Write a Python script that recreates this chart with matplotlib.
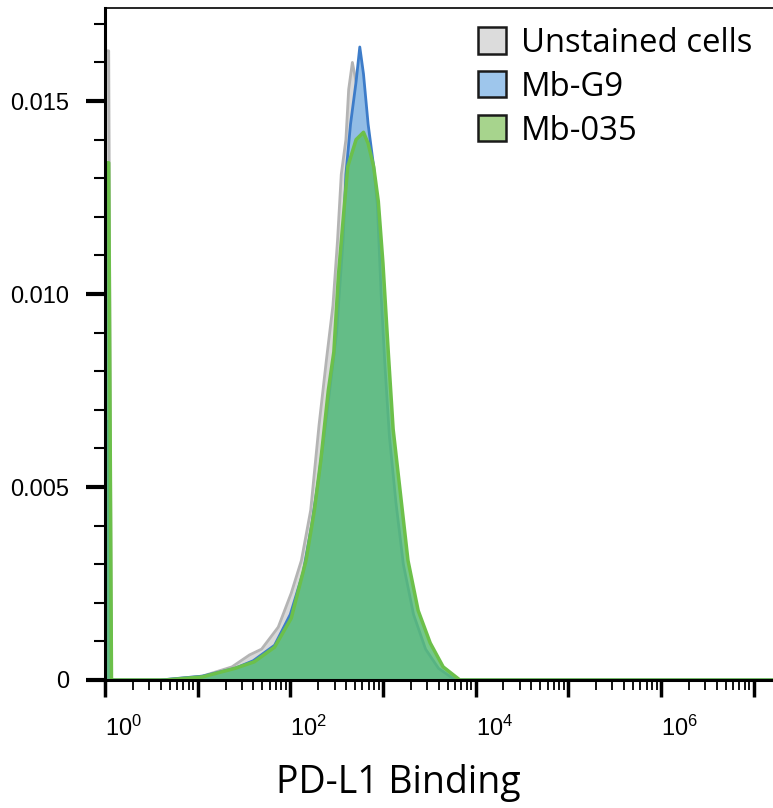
import matplotlib.pyplot as plt
import matplotlib.ticker as mticker
from matplotlib.patches import Patch
import numpy as np

# histogram outlines, x as log10(intensity), y as density
unstained_log = [0.0, 0.04, 0.07, 0.6, 1.05, 1.37, 1.56, 1.69, 1.87, 2.01, 2.12, 2.22, 2.31, 2.39,
                 2.46, 2.51, 2.55, 2.60, 2.63, 2.67, 2.75, 2.82, 2.88, 2.94, 3.00, 3.06,
                 3.14, 3.22, 3.32, 3.45, 3.60, 3.75, 7.3]
unstained_y = [0.0163, 0.0163, 0.0, 0.0, 0.0001, 0.00034, 0.00065, 0.0008, 0.00137, 0.00225, 0.0031,
               0.0044, 0.0066, 0.0083, 0.0097, 0.0114, 0.0131, 0.0140, 0.0153, 0.0160, 0.0150,
               0.0135, 0.0118, 0.0098, 0.0078, 0.0060, 0.0040, 0.0025, 0.0014, 0.0006,
               0.0002, 0.0, 0.0]

g9_log = [0.0, 0.04, 0.07, 0.6, 1.05, 1.40, 1.60, 1.83, 2.00, 2.14, 2.23, 2.31, 2.39, 2.45,
          2.50, 2.52, 2.57, 2.60, 2.65, 2.71, 2.75, 2.79, 2.84, 2.90, 2.94, 2.98, 3.02,
          3.07, 3.14, 3.22, 3.33, 3.46, 3.60, 3.78, 7.3]
g9_y = [0.0067, 0.0067, 0.0, 0.0, 0.0001, 0.0003, 0.0005, 0.0009, 0.0017, 0.0028, 0.0040,
        0.0053, 0.0068, 0.0080, 0.0090, 0.0097, 0.0114, 0.0131, 0.0144, 0.0155, 0.0164,
        0.0157, 0.0144, 0.0133, 0.0123, 0.0100, 0.0082, 0.0063, 0.0046, 0.0030, 0.0017,
        0.0008, 0.0003, 0.0, 0.0]

mb035_log = [0.0, 0.04, 0.07, 0.65, 1.05, 1.40, 1.61, 1.83, 2.01, 2.17, 2.26, 2.33, 2.41, 2.47,
             2.52, 2.58, 2.62, 2.71, 2.79, 2.84, 2.90, 2.95, 3.00, 3.06, 3.11, 3.19, 3.27,
             3.38, 3.51, 3.65, 3.83, 7.3]
mb035_y = [0.0134, 0.0134, 0.0, 0.0, 0.00008, 0.0003, 0.00047, 0.00085, 0.0016, 0.0031, 0.0044,
           0.0057, 0.0075, 0.0085, 0.0105, 0.0122, 0.0133, 0.0140, 0.01419, 0.0139, 0.0133,
           0.0124, 0.0108, 0.0084, 0.0065, 0.0048, 0.0031, 0.0018, 0.00096, 0.00034, 0.0,
           0.0]

labels = ["Unstained cells", "Mb-G9", "Mb-035"]
legend_colors = ["#dcdcdc", "#9ec6ec", "#a7d48d"]

y_ticks = [0, 0.005, 0.010, 0.015]
y_tick_labels = ["0", "0.005", "0.010", "0.015"]

fig = plt.figure(figsize=(7.73, 8.08), dpi=100)
ax = fig.add_axes([105 / 773, 128 / 808, 668 / 773, 672 / 808])

x_un = 10 ** np.array(unstained_log)
x_g9 = 10 ** np.array(g9_log)
x_35 = 10 ** np.array(mb035_log)

ax.fill_between(x_un, unstained_y, color="#d9d9d9", lw=0, zorder=1)
ax.plot(x_un, unstained_y, color="#b4b4b4", lw=2, zorder=1.5)
ax.fill_between(x_g9, g9_y, color="#92bde6", lw=0, zorder=2)
ax.plot(x_g9, g9_y, color="#3d7cc9", lw=2, zorder=2.5)
ax.fill_between(x_35, mb035_y, color="#5cbe77", alpha=0.85, lw=0, zorder=3)
ax.plot(x_35, mb035_y, color="#6cc04a", lw=2.5, zorder=3.5)

ax.set_xscale("log")
ax.set_xlim(1, 10 ** 7.21)
ax.set_ylim(0, 0.01741)

# spines
ax.spines["right"].set_visible(False)
ax.spines["left"].set_linewidth(2.2)
ax.spines["bottom"].set_linewidth(2.2)
ax.spines["top"].set_linewidth(1.2)
for s in ax.spines.values():
    s.set_zorder(5)

# x ticks
ax.xaxis.set_major_locator(mticker.FixedLocator([10.0 ** k for k in range(8)]))
ax.xaxis.set_minor_locator(mticker.LogLocator(base=10, subs=np.arange(2, 10), numticks=20))
xlab = []
for k in range(8):
    xlab.append(r"$\mathregular{10^{%d}}$" % k if k % 2 == 0 else "")
ax.set_xticklabels(xlab)
ax.tick_params(axis="x", which="major", length=12, width=2.5, pad=14)
ax.tick_params(axis="x", which="minor", length=7, width=1.3)
for t in ax.get_xticklabels():
    t.set_ha("left")
    t.set_fontfamily("Liberation Sans")
    t.set_fontsize(17)

# y ticks
ax.set_yticks(y_ticks)
ax.set_yticklabels(y_tick_labels, fontfamily="Liberation Sans", fontsize=17)
ax.yaxis.set_minor_locator(mticker.MultipleLocator(0.001))
ax.tick_params(axis="y", which="major", length=14, width=3, pad=12)
ax.tick_params(axis="y", which="minor", length=8, width=1.5)

ax.set_xlabel("PD-L1 Binding", fontfamily="Open Sans", fontsize=27)
ax.xaxis.set_label_coords((398 - 105) / 668, -0.125)

handles = [Patch(facecolor=c, edgecolor="#1a1a1a", lw=1.8) for c in legend_colors]
ax.legend(handles, labels, loc="upper left", bbox_to_anchor=((478 - 105) / 668, 0.972),
          frameon=False, prop={"family": "Open Sans", "size": 23.7},
          handlelength=0.85, handleheight=0.85, handletextpad=0.45,
          labelspacing=0.33, borderpad=0, borderaxespad=0)

fig.savefig("out.png", dpi=100)
